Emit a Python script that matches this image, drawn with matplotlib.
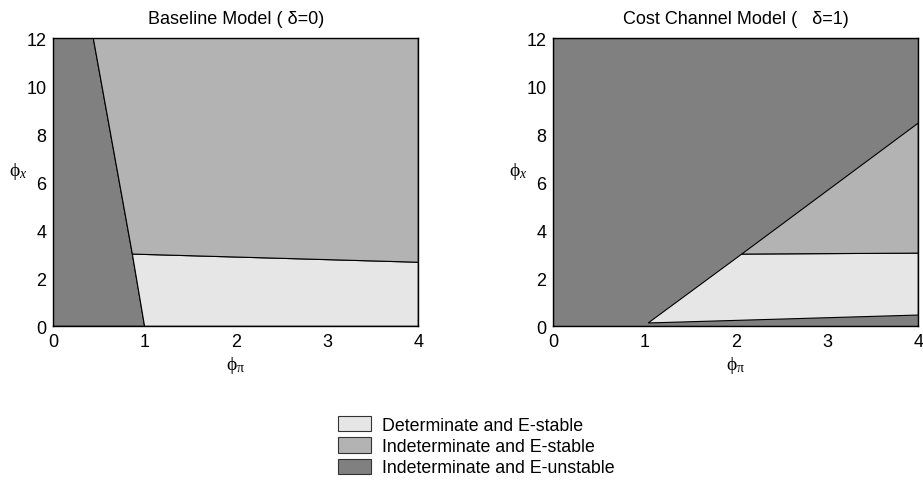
import numpy as np
import matplotlib.pyplot as plt
from matplotlib.patches import Polygon, Patch

#------------------------------------------------------------------------------

plt.rcParams['font.family'] = ['Liberation Sans', 'DejaVu Sans']
plt.rcParams['mathtext.fontset'] = 'custom'
plt.rcParams['mathtext.rm'] = 'Liberation Serif'
plt.rcParams['mathtext.it'] = 'Liberation Serif:italic'

c_det = '#e6e6e6'     # determinate, E-stable
c_ind = '#b3b3b3'     # indeterminate, E-stable
c_uns = '#808080'     # indeterminate, E-unstable

labels = ['Determinate and E-stable',
          'Indeterminate and E-stable',
          'Indeterminate and E-unstable']

# Baseline model (delta = 0): region boundaries
base_unstable = [(0, 0), (1.0, 0), (0.866, 3.01), (0.438, 12), (0, 12)]
base_det      = [(1.0, 0), (4, 0), (4, 2.67), (0.866, 3.01)]
base_ind      = [(0.866, 3.01), (4, 2.67), (4, 12), (0.438, 12)]

# Cost channel model (delta = 1)
cost_unstable = [(0, 0), (4, 0), (4, 12), (0, 12)]
cost_det      = [(1.04, 0.14), (4, 0.47), (4, 3.05), (2.065, 3.01)]
cost_ind      = [(2.065, 3.01), (4, 3.05), (4, 8.47)]

#------------------------------------------------------------------------------

def draw_panel(ax, regions, title):
    for pts, col in regions:
        ax.add_patch(Polygon(pts, closed=True, facecolor=col,
                             edgecolor='black', linewidth=0.8))
    ax.set_xlim(0, 4)
    ax.set_ylim(0, 12)
    ax.set_xticks([0, 1, 2, 3, 4])
    ax.set_yticks([0, 2, 4, 6, 8, 10, 12])
    ax.tick_params(length=0, labelsize=13, pad=5)
    for s in ax.spines.values():
        s.set_linewidth(1.0)
    ax.set_title(title, fontsize=13, pad=11)
    ax.set_xlabel(r'$\mathrm{\phi}_{\mathrm{\pi}}$', fontsize=14, labelpad=3)
    ax.set_ylabel(r'$\mathrm{\phi}_{x}$', fontsize=14, rotation=0, va='center')
    ax.yaxis.set_label_coords(-0.095, 0.54)


fig = plt.figure(figsize=(9.23, 4.81), dpi=100)

ax1 = fig.add_axes([0.0578, 0.3195, 0.3954, 0.5988])
ax2 = fig.add_axes([0.5995, 0.3195, 0.3954, 0.5988])

draw_panel(ax1, [(base_unstable, c_uns), (base_det, c_det), (base_ind, c_ind)],
           'Baseline Model ( δ=0)')
draw_panel(ax2, [(cost_unstable, c_uns), (cost_det, c_det), (cost_ind, c_ind)],
           'Cost Channel Model (   δ=1)')

handles = [Patch(facecolor=c, edgecolor='#333333', linewidth=0.8)
           for c in [c_det, c_ind, c_uns]]
fig.legend(handles, labels, loc='upper left',
           bbox_to_anchor=(338 / 923, 1 - 417 / 481),
           frameon=False, fontsize=12.8, borderpad=0, borderaxespad=0,
           handlelength=1.85, handleheight=0.95, handletextpad=0.65,
           labelspacing=0.2)

fig.savefig('out.png', dpi=100)
